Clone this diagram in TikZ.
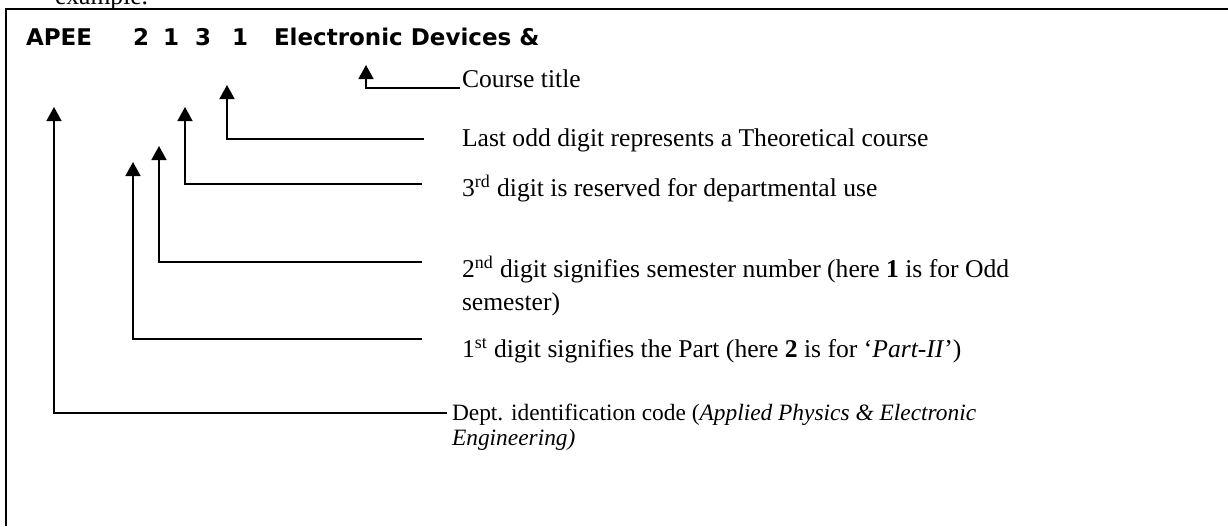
\documentclass[tikz,border=0pt]{standalone}
\usepackage{fontspec}
\setmainfont{Liberation Serif}
\newfontfamily\codefont{DejaVu Sans}
\usetikzlibrary{arrows.meta,positioning}
\tikzset{>={Triangle[width=7.5pt,length=7pt]}}

\begin{document}
\begin{tikzpicture}[x=0.5pt,y=-0.5pt,line width=0.8pt,
  every node/.style={inner sep=0pt,outer sep=0pt,anchor=base west},
  code/.style={font=\codefont\bfseries\fontsize{11.5}{13}\selectfont},
  expl/.style={font=\fontsize{12.8}{15}\selectfont},
  small/.style={font=\fontsize{11.7}{12.5}\selectfont}]
\useasboundingbox (0,0) rectangle (1228,526);
% frame round the example
\draw[line width=1pt] (6,526) -- (6,9) -- (1228,9);
\node[expl] (ex) at (55,4) {example.};
% the course code
\node[code] (dept) at (26,45) {APEE};
\node[code] (d1) at (133,45) {2};
\node[code] (d2) at (163,45) {1};
\node[code] (d3) at (195,45) {3};
\node[code] (d4) at (232,45) {1};
\node[code] (ttl) at (274,45) {Electronic Devices \&};
% explanations
\node[expl] (ttlT) at (462,87) {Course title};
\node[expl] (lastT) at (462,146) {Last odd digit represents a Theoretical course};
\node[expl] (thirdT) at (462,196) {3\textsuperscript{rd} digit is reserved for departmental use};
\node[expl,align=left] (secondT) at (462,310) {2\textsuperscript{nd} digit signifies semester number (here \textbf{1} is for Odd\\[1.5pt] semester)};
\node[expl] (firstT) at (462,357) {1\textsuperscript{st} digit signifies the Part (here \textbf{2} is for `\textit{Part-II}')};
\node[small,align=left] (deptT) at (452,445) {Dept. identification code (\textit{Applied Physics \& Electronic}\\ \textit{Engineering)}};
% arrow tips and line ends
\coordinate (ttlA) at (366,65);   \coordinate (ttlE) at (460,88);
\coordinate (lastA) at (227,85);  \coordinate (lastE) at (424,139);
\coordinate (thirdA) at (185,107); \coordinate (thirdE) at (422,184);
\coordinate (secondA) at (159,146); \coordinate (secondE) at (422,262);
\coordinate (firstA) at (133,162); \coordinate (firstE) at (422,339);
\coordinate (deptA) at (54,107);  \coordinate (deptE) at (447,413);
\draw[->] (ttlE) -| (ttlA);
\draw[->] (lastE) -| (lastA);
\draw[->] (thirdE) -| (thirdA);
\draw[->] (secondE) -| (secondA);
\draw[->] (firstE) -| (firstA);
\draw[->] (deptE) -| (deptA);
\end{tikzpicture}
\end{document}
